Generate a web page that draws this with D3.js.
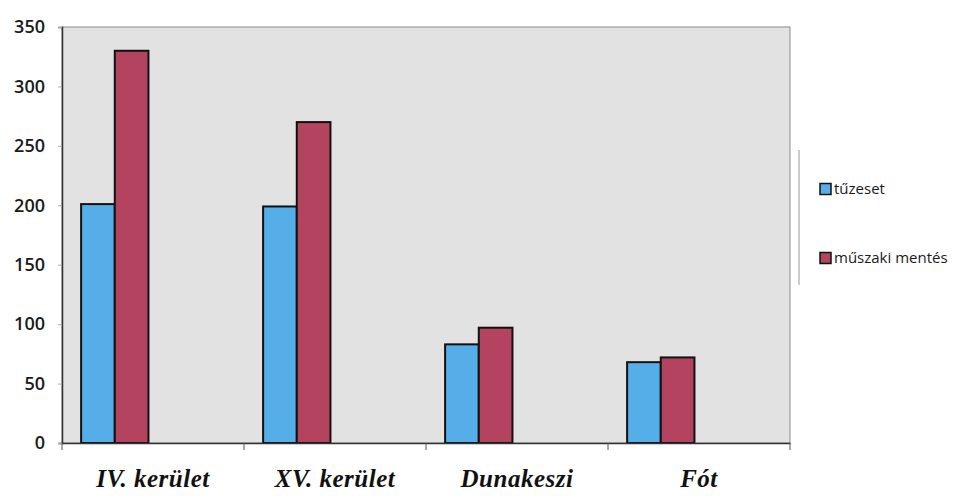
<!DOCTYPE html>
<html>
<head>
<meta charset="utf-8">
<script src="https://cdnjs.cloudflare.com/ajax/libs/d3/7.8.5/d3.min.js"></script>
<style>
  body { margin: 0; background: #fff; }
  svg { display: block; }
</style>
</head>
<body>
<svg></svg>
<script>
const width = 967, height = 496;

// data
const categories = ["IV. kerület", "XV. kerület", "Dunakeszi", "Fót"];
const seriesNames = ["tűzeset", "műszaki mentés"];
const tuzeset = [201, 199, 83, 68];
const muszaki = [330, 270, 97, 72];
const yTicks = [0, 50, 100, 150, 200, 250, 300, 350];
const seriesColors = ["#55aee8", "#b4435f"];

const plot = {left: 62, right: 790, top: 27, bottom: 443};

const svg = d3.select("svg").attr("width", width).attr("height", height);

// plot background (scanned gray)
svg.append("rect")
    .attr("x", plot.left).attr("y", plot.top)
    .attr("width", plot.right - plot.left).attr("height", plot.bottom - plot.top)
    .attr("fill", "#e2e2e2")
    .attr("stroke", "#8a8a8a").attr("stroke-width", 1);

const x0 = d3.scaleBand().domain(categories).range([plot.left, plot.right]);
const bw = x0.bandwidth();
const x1 = d3.scaleBand().domain(seriesNames).range([bw * 0.105, bw * 0.475]);
const y = d3.scaleLinear().domain([0, 350]).range([plot.bottom, plot.top]);

const rows = categories.map((c, i) => ({cat: c, vals: [tuzeset[i], muszaki[i]]}));

const groups = svg.selectAll("g.grp").data(rows).enter().append("g")
    .attr("class", "grp")
    .attr("transform", d => `translate(${x0(d.cat)},0)`);

groups.selectAll("rect").data(d => d.vals.map((v, k) => ({v, k})))
    .enter().append("rect")
    .attr("x", d => x1(seriesNames[d.k]))
    .attr("y", d => y(d.v))
    .attr("width", x1.bandwidth())
    .attr("height", d => y(0) - y(d.v))
    .attr("fill", d => seriesColors[d.k])
    .attr("stroke", "#111").attr("stroke-width", 2);

// y axis
const yAxis = d3.axisLeft(y).tickValues(yTicks).tickSize(4).tickPadding(13);
const ya = svg.append("g").attr("transform", `translate(${plot.left},0)`).call(yAxis);
ya.select(".domain").attr("stroke", "#333").attr("stroke-width", 1.5);
ya.selectAll(".tick line").attr("stroke", "#aaa");
ya.selectAll("text")
    .attr("font-family", "'Open Sans', sans-serif")
    .attr("font-size", 18).attr("font-weight", 600).attr("fill", "#1a1a1a");

// x axis
const xAxis = d3.axisBottom(x0).tickSize(0).tickPadding(26);
const xa = svg.append("g").attr("transform", `translate(0,${plot.bottom})`).call(xAxis);
xa.select(".domain").attr("stroke", "#333").attr("stroke-width", 1.5);
xa.selectAll("text")
    .attr("font-family", "'Liberation Serif', 'Times New Roman', serif")
    .attr("font-size", 25).attr("font-style", "italic").attr("font-weight", "bold")
    .attr("letter-spacing", 0.5)
    .attr("fill", "#111");
// category boundary ticks
xa.selectAll("line.sep").data(categories.concat(["end"])).enter().append("line")
    .attr("class", "sep")
    .attr("x1", (d, i) => plot.left + i * bw).attr("x2", (d, i) => plot.left + i * bw)
    .attr("y1", 0).attr("y2", 7)
    .attr("stroke", "#555");

// legend
svg.append("line")
    .attr("x1", 799).attr("x2", 799).attr("y1", 150).attr("y2", 285)
    .attr("stroke", "#999");
const legendY = [189, 258];
const leg = svg.selectAll("g.leg").data(seriesNames).enter().append("g")
    .attr("class", "leg")
    .attr("transform", (d, i) => `translate(820,${legendY[i]})`);
leg.append("rect")
    .attr("x", 0).attr("y", -5.5).attr("width", 11).attr("height", 11)
    .attr("fill", (d, i) => seriesColors[i])
    .attr("stroke", "#111").attr("stroke-width", 1.5);
leg.append("text")
    .attr("x", 14).attr("y", 5)
    .attr("font-family", "'Open Sans', sans-serif")
    .attr("font-size", 15).attr("fill", "#1a1a1a")
    .text(d => d);
</script>
</body>
</html>
